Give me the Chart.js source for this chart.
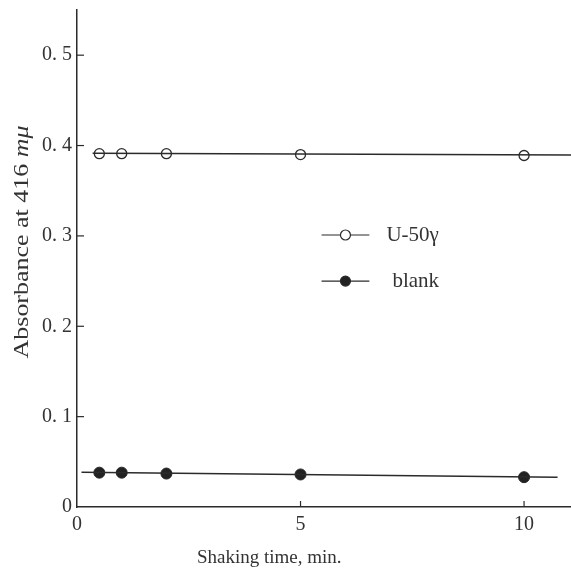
<!DOCTYPE html>
<html>
<head>
<meta charset="utf-8">
<script src="https://cdn.jsdelivr.net/npm/chart.js@4.4.1/dist/chart.umd.min.js"></script>
<style>
  html, body { margin: 0; padding: 0; background: #fff; }
  #wrap { width: 571px; height: 578px; position: relative; }
</style>
</head>
<body>
<div id="wrap"><canvas id="graf" width="571" height="578"></canvas></div>
<script>
// Shaking time (min) og absorbans lest av figuren
const tider = [0.5, 1, 2, 5, 10];
const u50Verdier = [0.391, 0.391, 0.391, 0.390, 0.389];
const blankVerdier = [0.038, 0.038, 0.037, 0.036, 0.033];

// Tilpassede linjer (start og slutt)
const u50Linje = [{ x: 0.35, y: 0.3915 }, { x: 11.2, y: 0.3895 }];
const blankLinje = [{ x: 0.1, y: 0.0385 }, { x: 10.75, y: 0.0330 }];

const xTicks = [0, 5, 10];
const yTicks = [0, 0.1, 0.2, 0.3, 0.4, 0.5];

const xTittel = 'Shaking time, min.';
const yTittel = 'Absorbance at 416 ';
const yEnhet = 'mμ';
const serier = ['U-50γ', 'blank'];

const blekk = '#2b2b2b';
const serif = '"Liberation Serif", "DejaVu Serif", serif';

function punkter(xs, ys) {
    return xs.map((x, i) => ({ x: x, y: ys[i] }));
}

// tegner tittler, indre tick-streker og legenden
const tegnEkstra = {
    id: 'tegnEkstra',
    afterDraw(chart) {
        const ctx = chart.ctx;
        const xs = chart.scales.x;
        const ys = chart.scales.y;
        const area = chart.chartArea;
        ctx.save();
        ctx.strokeStyle = blekk;
        ctx.lineWidth = 1.2;

        // tick-streker innover
        yTicks.forEach(v => {
            if (v === 0) return;
            const py = ys.getPixelForValue(v);
            ctx.beginPath();
            ctx.moveTo(area.left, py);
            ctx.lineTo(area.left + 7, py);
            ctx.stroke();
        });
        xTicks.forEach(v => {
            if (v === 0) return;
            const px = xs.getPixelForValue(v);
            ctx.beginPath();
            ctx.moveTo(px, area.bottom);
            ctx.lineTo(px, area.bottom - 6);
            ctx.stroke();
        });

        // x-tittel
        ctx.fillStyle = '#333';
        ctx.font = '19px ' + serif;
        ctx.textAlign = 'center';
        ctx.textBaseline = 'middle';
        ctx.fillText(xTittel, xs.getPixelForValue(4.3), 558);

        // y-tittel (rotert, litt strukket som skrivemaskinskrift)
        ctx.save();
        ctx.translate(22, 242);
        ctx.rotate(-Math.PI / 2);
        ctx.scale(1.18, 1);
        ctx.font = '22px ' + serif;
        const b1 = ctx.measureText(yTittel).width;
        ctx.font = 'italic 22px ' + serif;
        const b2 = ctx.measureText(yEnhet).width;
        const start = -(b1 + b2) / 2;
        ctx.textAlign = 'left';
        ctx.font = '22px ' + serif;
        ctx.fillText(yTittel, start, 0);
        ctx.font = 'italic 22px ' + serif;
        ctx.fillText(yEnhet, start + b1, 0);
        ctx.restore();

        // legende
        const legY = [0.301, 0.250];
        const lx0 = xs.getPixelForValue(5.47);
        const lx1 = xs.getPixelForValue(6.54);
        legY.forEach((v, i) => {
            const py = ys.getPixelForValue(v);
            ctx.beginPath();
            ctx.moveTo(lx0, py);
            ctx.lineTo(lx1, py);
            ctx.stroke();
            ctx.beginPath();
            ctx.arc((lx0 + lx1) / 2, py, 5, 0, Math.PI * 2);
            ctx.fillStyle = i === 0 ? '#fff' : '#222';
            ctx.fill();
            ctx.stroke();
            ctx.fillStyle = '#333';
            ctx.font = '21px ' + serif;
            ctx.textAlign = 'left';
            ctx.fillText(serier[i], lx1 + (i === 0 ? 17 : 23), py);
        });
        ctx.restore();
    }
};

const grafConfig = {
    type: 'scatter',
    data: {
        datasets: [{
            label: serier[0] + ' linje',
            data: u50Linje,
            showLine: true,
            borderColor: blekk,
            borderWidth: 1.5,
            pointRadius: 0
        }, {
            label: serier[1] + ' linje',
            data: blankLinje,
            showLine: true,
            borderColor: blekk,
            borderWidth: 1.5,
            pointRadius: 0
        }, {
            label: serier[0],
            data: punkter(tider, u50Verdier),
            pointRadius: 5,
            pointBackgroundColor: '#fff',
            pointBorderColor: blekk,
            pointBorderWidth: 1.3
        }, {
            label: serier[1],
            data: punkter(tider, blankVerdier),
            pointRadius: 5.5,
            pointBackgroundColor: '#222',
            pointBorderColor: '#222',
            pointBorderWidth: 1
        }]
    },
    options: {
        responsive: false,
        animation: false,
        layout: { autoPadding: false, padding: { top: 10, right: 0, left: 0, bottom: 0 } },
        plugins: {
            legend: { display: false },
            tooltip: { enabled: false }
        },
        scales: {
            x: {
                type: 'linear',
                min: 0,
                max: 11.05,
                afterBuildTicks: s => { s.ticks = xTicks.map(v => ({ value: v })); },
                afterFit: s => { s.height = 71; s.paddingLeft = 0; s.paddingRight = 0; },
                grid: { display: false, drawTicks: false },
                border: { display: true, color: blekk, width: 1.5 },
                ticks: {
                    color: '#333',
                    padding: 6,
                    font: { family: serif, size: 20 },
                    callback: v => String(v)
                }
            },
            y: {
                type: 'linear',
                min: 0,
                max: 0.55,
                afterBuildTicks: s => { s.ticks = yTicks.map(v => ({ value: v })); },
                afterFit: s => { s.width = 77; s.paddingTop = 0; s.paddingBottom = 0; },
                grid: { display: false, drawTicks: false },
                border: { display: true, color: blekk, width: 1.5 },
                ticks: {
                    color: '#333',
                    padding: 5,
                    font: { family: serif, size: 20 },
                    callback: v => v === 0 ? '0' : '0. ' + Math.round(v * 10)
                }
            }
        }
    },
    plugins: [tegnEkstra]
};

const graf = new Chart(document.getElementById('graf'), grafConfig);
</script>
</body>
</html>
